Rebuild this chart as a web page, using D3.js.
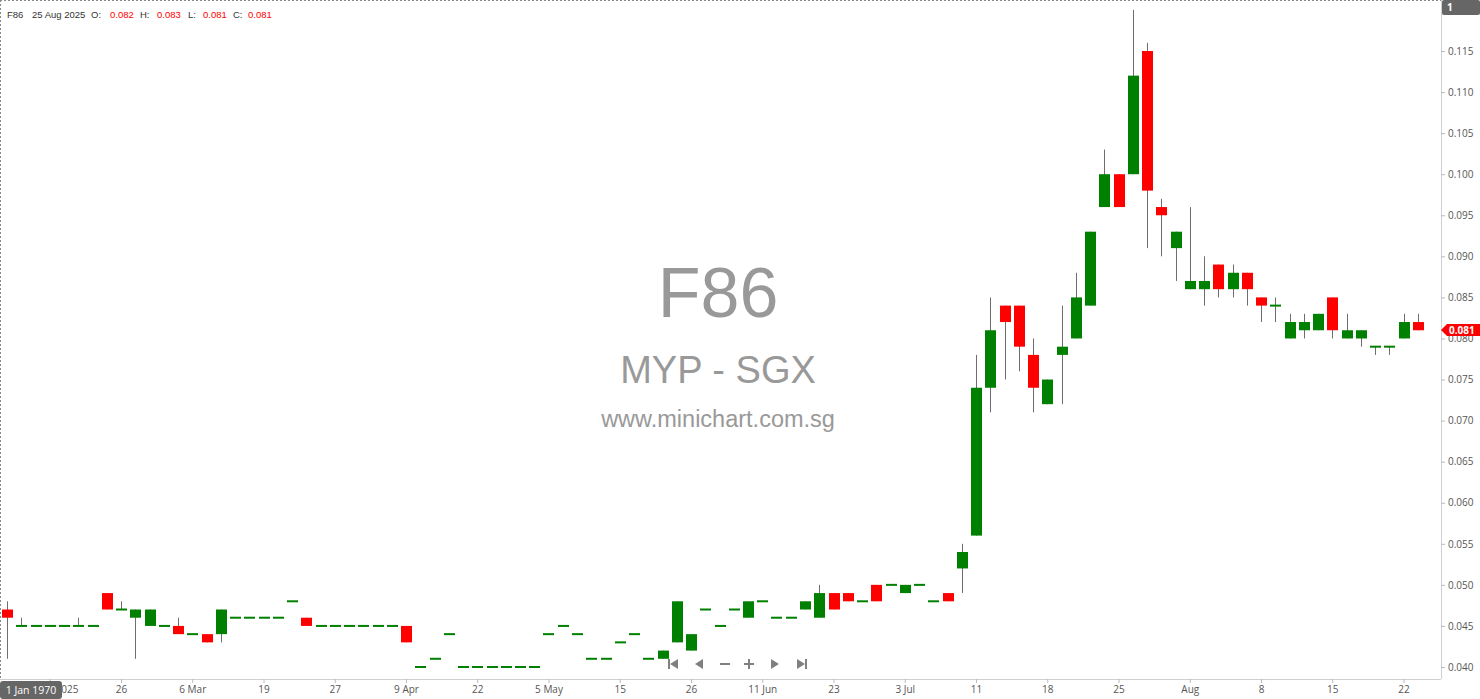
<!DOCTYPE html>
<html>
<head>
<meta charset="utf-8">
<script src="https://cdn.jsdelivr.net/npm/d3@7"></script>
<style>
  html, body { margin: 0; padding: 0; background: #fff; }
  svg { display: block; }
  text { font-family: "Open Sans", "Liberation Sans", Arial, sans-serif; }
  text.arial { font-family: "Liberation Sans", Arial, sans-serif; }
</style>
</head>
<body>
<svg id="chart" width="1480" height="699"></svg>
<script>
// ---------------- DATA ----------------
const symbol = "F86";
const watermarkName = "MYP - SGX";
const watermarkSite = "www.minichart.com.sg";
const lastDate = "25 Aug 2025";

// Daily bars (oldest -> newest), 100 sessions
const openVals = [
  0.047,0.045,0.045,0.045,0.045,0.045,0.045,0.049,0.047,0.046,
  0.045,0.045,0.045,0.044,0.044,0.044,0.046,0.046,0.046,0.046,
  0.048,0.046,0.045,0.045,0.045,0.045,0.045,0.045,0.045,0.040,
  0.041,0.044,0.040,0.040,0.040,0.040,0.040,0.040,0.044,0.045,
  0.044,0.041,0.041,0.043,0.044,0.041,0.041,0.043,0.042,0.047,
  0.045,0.047,0.046,0.048,0.046,0.046,0.047,0.046,0.049,0.049,
  0.048,0.050,0.050,0.049,0.050,0.048,0.049,0.052,0.056,0.074,
  0.084,0.084,0.078,0.072,0.078,0.080,0.084,0.096,0.100,0.100,
  0.115,0.096,0.091,0.086,0.086,0.089,0.086,0.088,0.085,0.084,
  0.080,0.081,0.081,0.085,0.080,0.080,0.079,0.079,0.080,0.082
];
const highVals = [
  0.048,0.046,0.045,0.045,0.045,0.046,0.045,0.049,0.048,0.047,
  0.047,0.045,0.046,0.044,0.044,0.047,0.046,0.046,0.046,0.046,
  0.048,0.046,0.045,0.045,0.045,0.045,0.045,0.045,0.045,0.040,
  0.041,0.044,0.040,0.040,0.040,0.040,0.040,0.040,0.044,0.045,
  0.044,0.041,0.041,0.043,0.044,0.041,0.042,0.048,0.044,0.047,
  0.045,0.047,0.048,0.048,0.046,0.046,0.048,0.050,0.049,0.049,
  0.048,0.050,0.050,0.050,0.050,0.048,0.049,0.055,0.078,0.085,
  0.084,0.084,0.080,0.075,0.084,0.088,0.093,0.103,0.100,0.120,
  0.116,0.097,0.093,0.096,0.090,0.089,0.089,0.088,0.085,0.085,
  0.083,0.083,0.083,0.085,0.083,0.081,0.079,0.079,0.083,0.083
];
const lowVals = [
  0.041,0.045,0.045,0.045,0.045,0.045,0.045,0.047,0.047,0.041,
  0.045,0.045,0.044,0.044,0.043,0.043,0.046,0.046,0.046,0.046,
  0.048,0.045,0.045,0.045,0.045,0.045,0.045,0.045,0.043,0.040,
  0.041,0.044,0.040,0.040,0.040,0.040,0.040,0.040,0.044,0.045,
  0.044,0.041,0.041,0.043,0.044,0.041,0.041,0.043,0.042,0.047,
  0.045,0.047,0.046,0.048,0.046,0.046,0.047,0.046,0.047,0.048,
  0.048,0.048,0.050,0.049,0.050,0.048,0.048,0.049,0.056,0.071,
  0.075,0.076,0.071,0.072,0.072,0.080,0.084,0.096,0.096,0.100,
  0.091,0.090,0.087,0.086,0.084,0.085,0.085,0.084,0.082,0.082,
  0.080,0.080,0.081,0.080,0.080,0.079,0.078,0.078,0.080,0.081
];
const closeVals = [
  0.046,0.045,0.045,0.045,0.045,0.045,0.045,0.047,0.047,0.047,
  0.047,0.045,0.044,0.044,0.043,0.047,0.046,0.046,0.046,0.046,
  0.048,0.045,0.045,0.045,0.045,0.045,0.045,0.045,0.043,0.040,
  0.041,0.044,0.040,0.040,0.040,0.040,0.040,0.040,0.044,0.045,
  0.044,0.041,0.041,0.043,0.044,0.041,0.042,0.048,0.044,0.047,
  0.045,0.047,0.048,0.048,0.046,0.046,0.048,0.049,0.047,0.048,
  0.048,0.048,0.050,0.050,0.050,0.048,0.048,0.054,0.074,0.081,
  0.082,0.079,0.074,0.075,0.079,0.085,0.093,0.100,0.096,0.112,
  0.098,0.095,0.093,0.087,0.087,0.086,0.088,0.086,0.084,0.084,
  0.082,0.082,0.083,0.081,0.081,0.081,0.079,0.079,0.082,0.081
];

// X-axis tick labels: one every 5 sessions, first on session 3
const tickLabels = ["19 Feb 2025","26","6 Mar","19","27","9 Apr","22","5 May","15","26",
                    "11 Jun","23","3 Jul","11","18","25","Aug","8","15","22"];
const firstTickBar = 3, tickStep = 5;

// Y-axis tick values
const priceTicks = [0.040,0.045,0.050,0.055,0.060,0.065,0.070,0.075,0.080,0.085,0.090,0.095,0.100,0.105,0.110,0.115];

// ---------------- CHART ----------------
const svg = d3.select("#chart");
const plotRight = 1441, plotBottom = 679;
const nBars = openVals.length;
const bars = d3.range(nBars).map(i => ({i, o: openVals[i], h: highVals[i], l: lowVals[i], c: closeVals[i]}));

const x = d3.scaleLinear().domain([0, nBars - 1]).range([7, 7 + (nBars - 1) * 14.25]);
const y = d3.scaleLinear().domain([0.040, 0.115]).range([667, 51]);

const GREEN = "#008000", RED = "#ff0000", WICK = "#6e6e6e";
const bodyW = 11;

// Watermark
const wm = svg.append("g").attr("fill", "#999").attr("text-anchor", "middle");
wm.append("text").attr("class", "arial").attr("x", 718).attr("y", 317).attr("font-size", 70).text(symbol);
wm.append("text").attr("class", "arial").attr("x", 718).attr("y", 383).attr("font-size", 38).text(watermarkName);
wm.append("text").attr("class", "arial").attr("x", 718).attr("y", 427).attr("font-size", 23.5).text(watermarkSite);

// Borders (dotted top / left)
svg.append("line").attr("x1", 0).attr("x2", plotRight).attr("y1", 0.5).attr("y2", 0.5)
  .attr("stroke", "#888").attr("stroke-dasharray", "2,2");
svg.append("line").attr("x1", 0.5).attr("x2", 0.5).attr("y1", 0).attr("y2", plotBottom)
  .attr("stroke", "#888").attr("stroke-dasharray", "2,2");

// Candles
const cg = svg.append("g");
cg.selectAll("line.wick").data(bars.filter(d => d.h > d.l)).join("line")
  .attr("class", "wick")
  .attr("x1", d => Math.round(x(d.i)) + 0.5).attr("x2", d => Math.round(x(d.i)) + 0.5)
  .attr("y1", d => y(d.h)).attr("y2", d => y(d.l))
  .attr("stroke", WICK).attr("stroke-width", 1);

cg.selectAll("rect.body").data(bars).join("rect")
  .attr("class", "body")
  .attr("x", d => Math.round(x(d.i)) - 5)
  .attr("width", bodyW)
  .attr("y", d => d.o === d.c ? y(d.c) - 1 : y(Math.max(d.o, d.c)))
  .attr("height", d => d.o === d.c ? 2 : Math.abs(y(d.o) - y(d.c)))
  .attr("fill", d => d.c >= d.o ? GREEN : RED);

// Y axis (right)
svg.append("line").attr("x1", plotRight + 0.5).attr("x2", plotRight + 0.5).attr("y1", 0).attr("y2", plotBottom)
  .attr("stroke", "#d0d0d0");
const yAxis = svg.append("g").attr("transform", `translate(${plotRight},0)`)
  .call(d3.axisRight(y).tickValues(priceTicks).tickSize(4).tickPadding(3).tickFormat(d3.format(".3f")));
yAxis.select(".domain").remove();
yAxis.selectAll(".tick line").attr("stroke", "#bbb");
yAxis.selectAll(".tick text").attr("fill", "#555").attr("font-size", 10)
  .style("font-family", "'Open Sans', sans-serif");

// X axis (bottom)
svg.append("line").attr("x1", 0).attr("x2", plotRight).attr("y1", plotBottom + 0.5).attr("y2", plotBottom + 0.5)
  .attr("stroke", "#d0d0d0");
const tickBars = tickLabels.map((_, k) => firstTickBar + k * tickStep);
const xAxis = svg.append("g").attr("transform", `translate(0,${plotBottom})`)
  .call(d3.axisBottom(x).tickValues(tickBars).tickSize(4).tickPadding(3)
    .tickFormat((d, k) => tickLabels[k]));
xAxis.select(".domain").remove();
xAxis.selectAll(".tick line").attr("stroke", "#bbb");
xAxis.selectAll(".tick text").attr("fill", "#555").attr("font-size", 10)
  .style("font-family", "'Open Sans', sans-serif");

// Navigation icons
const nav = svg.append("g").attr("fill", "#808080");
const ny = 664;
nav.append("rect").attr("x", 668).attr("y", ny - 5).attr("width", 2).attr("height", 10);
nav.append("path").attr("d", `M670,${ny} L678,${ny-5} L678,${ny+5} Z`);
nav.append("path").attr("d", `M695,${ny} L703,${ny-5} L703,${ny+5} Z`);
nav.append("rect").attr("x", 720).attr("y", ny - 1).attr("width", 10).attr("height", 2);
nav.append("rect").attr("x", 744).attr("y", ny - 1).attr("width", 10).attr("height", 2);
nav.append("rect").attr("x", 748).attr("y", ny - 5).attr("width", 2).attr("height", 10);
nav.append("path").attr("d", `M771,${ny-5} L779,${ny} L771,${ny+5} Z`);
nav.append("path").attr("d", `M797,${ny-5} L805,${ny} L797,${ny+5} Z`);
nav.append("rect").attr("x", 805).attr("y", ny - 5).attr("width", 2).attr("height", 10);

// Last price badge
const last = bars[nBars - 1];
const py = Math.round(y(last.c));
svg.append("path")
  .attr("d", `M${plotRight},${py} L${plotRight+6},${py-6} L1480,${py-6} L1480,${py+6} L${plotRight+6},${py+6} Z`)
  .attr("fill", RED);
svg.append("text").attr("x", plotRight + 8).attr("y", py + 3.5).attr("fill", "#fff")
  .attr("font-size", 10).attr("font-weight", "bold").text(d3.format(".3f")(last.c));

// "1" badge top right
svg.append("rect").attr("x", plotRight + 1).attr("y", 0).attr("width", 38).attr("height", 15).attr("rx", 2).attr("fill", "#666");
svg.append("text").attr("x", plotRight + 6).attr("y", 11).attr("fill", "#fff").attr("font-size", 10).attr("font-weight", "bold").text("1");

// "1 Jan 1970" badge bottom left
svg.append("rect").attr("x", 0).attr("y", 681).attr("width", 62).attr("height", 18).attr("rx", 3).attr("fill", "#666");
svg.append("text").attr("x", 31).attr("y", 694).attr("text-anchor", "middle").attr("fill", "#fff").attr("font-size", 10.5).text("1 Jan 1970");

// Header
const fmt = d3.format(".3f");
const hdr = svg.append("text").attr("class", "arial").attr("x", 7).attr("y", 18).attr("font-size", 9.5).attr("fill", "#333");
hdr.append("tspan").text(symbol);
hdr.append("tspan").attr("x", 32).text(lastDate);
hdr.append("tspan").attr("x", 91).text("O:");
hdr.append("tspan").attr("x", 110).attr("fill", RED).text(fmt(last.o));
hdr.append("tspan").attr("x", 140).text("H:");
hdr.append("tspan").attr("x", 157).attr("fill", RED).text(fmt(last.h));
hdr.append("tspan").attr("x", 188).text("L:");
hdr.append("tspan").attr("x", 203).attr("fill", RED).text(fmt(last.l));
hdr.append("tspan").attr("x", 233).text("C:");
hdr.append("tspan").attr("x", 248).attr("fill", RED).text(fmt(last.c));
</script>
</body>
</html>
